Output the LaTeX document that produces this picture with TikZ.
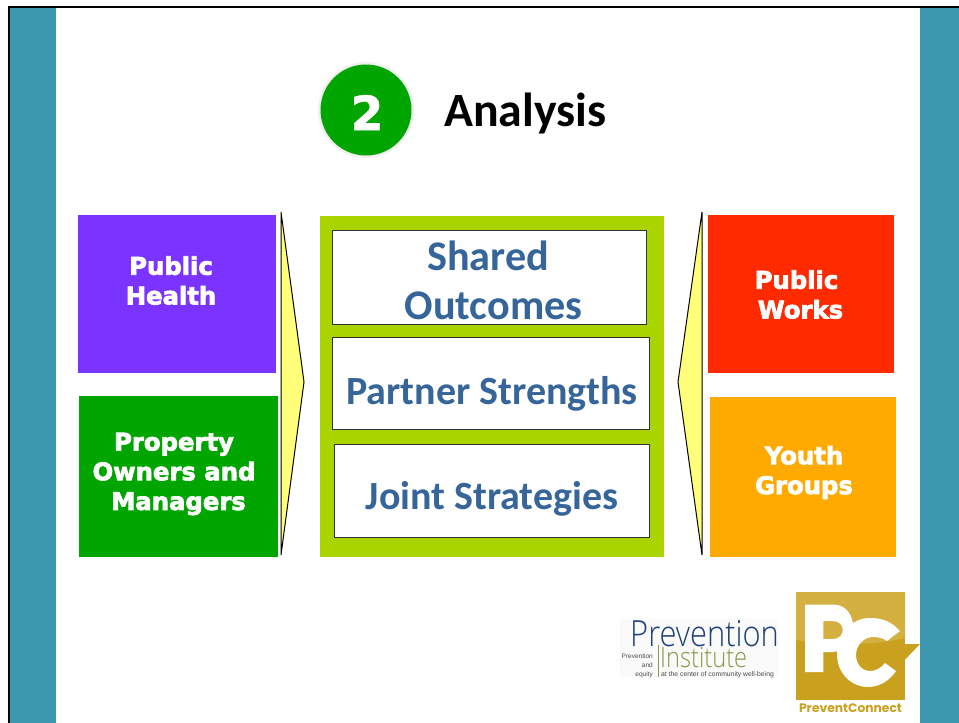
\documentclass[tikz,border=0pt]{standalone}
\usepackage{fontspec}
\setmainfont{Carlito}
\newfontfamily\heavyfont[FakeBold=3]{DejaVu Sans Bold}
\newfontfamily\digitfont[FakeBold=1.5]{DejaVu Sans Bold}
\newfontfamily\logofontA[FakeStretch=0.857]{Open Sans Light}
\newfontfamily\logofontB[FakeStretch=0.845]{Open Sans Light}
\newfontfamily\gothfont{Poppins}
\newfontfamily\smallfont{Liberation Sans}
\definecolor{teal1}{HTML}{3C98AE}
\definecolor{violet1}{HTML}{7B33FF}
\definecolor{green1}{HTML}{00A500}
\definecolor{red1}{HTML}{FF2A00}
\definecolor{orange1}{HTML}{FFAA00}
\definecolor{lime1}{HTML}{AAD400}
\definecolor{yellow1}{HTML}{FFFF7A}
\definecolor{blue1}{HTML}{36659A}
\definecolor{gold1}{HTML}{C9A11F}
\definecolor{gold2}{HTML}{D4B040}
\definecolor{navy1}{HTML}{1F3F78}
\definecolor{olive1}{HTML}{8A9A4A}
\tikzset{
  x=1pt,y=-1pt,
  panel/.style={fill=#1,draw=none},
  whitebox/.style={fill=white,draw=black!80,line width=1pt},
  blocklabel/.style={font=\fontsize{40}{40}\selectfont\bfseries,text=blue1,inner sep=0pt,anchor=base},
  biglabel/.style={font=\fontsize{42.2}{42.2}\selectfont\bfseries,text=blue1,inner sep=0pt,anchor=base},
  deptlabel/.style={font=\fontsize{24.3}{29.7}\selectfont\heavyfont,text=white,align=center,inner sep=0pt},
  pointer/.style={fill=yellow1,draw=black,line width=1pt,line join=miter},
  tinytext/.style={anchor=base east,inner sep=0pt,text=black!70,font=\fontsize{6.5}{6.5}\selectfont\smallfont},
}
\begin{document}
\begin{tikzpicture}
\useasboundingbox (0,0) rectangle (959,723);
\fill[white] (0,0) rectangle (959,723);
% slide frame
\fill[black] (8,6) rectangle (959,8);
\fill[black] (8,6) rectangle (10,723);
\fill[teal1] (10,8) rectangle (56,723);
\fill[teal1] (920,8) rectangle (959,723);
% heading
\node[circle,minimum size=96,fill=black!6,inner sep=0pt] (ring) at (366,110) {};
\node[circle,minimum size=91,fill=green1,inner sep=0pt] (badge) at (366,110) {};
\node[inner sep=0pt,text=white,font=\fontsize{47}{47}\selectfont\digitfont,anchor=base] (num) at (367,130) {2};
\node[anchor=base west,inner sep=0pt,font=\fontsize{47.8}{47.8}\selectfont\bfseries] (title) at (444,126) {Analysis};
% department panels
\path[panel=violet1] (78,215) rectangle (276,373);
\path[panel=green1] (79,396) rectangle (278,557);
\path[panel=red1] (708,215) rectangle (894,373);
\path[panel=orange1] (710,397) rectangle (896,557);
\node[deptlabel] (ph) at (171,280.5) {Public\\Health};
\node[deptlabel] (po) at (174,474) {Property\\Owners and\\\hspace{9pt}Managers};
\node[deptlabel] (pw) at (796.5,294.5) {Public\\\hspace{8pt}Works};
\node[deptlabel] (yg) at (804,472.5) {Youth\hspace{10pt}\\Groups};
% pointers
\draw[pointer] (281,212) -- (304,382) -- (281,555) -- cycle;
\draw[pointer] (702,212) -- (678,382) -- (702,555) -- cycle;
% centre block
\path[panel=lime1] (320,216) rectangle (664,557);
\draw[whitebox] (332,230) rectangle (646.5,324.5);
\draw[whitebox] (332,337) rectangle (649,429);
\draw[whitebox] (334,444) rectangle (649.5,537.5);
\node[biglabel] (so1) at (488,270) {Shared};
\node[biglabel] (so2) at (493.5,319.5) {Outcomes};
\node[blocklabel] (ps) at (492,404) {Partner Strengths};
\node[blocklabel] (js) at (492,509) {Joint Strategies};
% Prevention Institute logo
\fill[black!2] (620,618) rectangle (778,678);
\node[anchor=base west,inner sep=0pt,text=navy1,font=\fontsize{36}{36}\selectfont\logofontA] (pv) at (630,646) {Prevention};
\node[anchor=base west,inner sep=0pt,text=olive1,font=\fontsize{28}{28}\selectfont\logofontB] (in) at (660,667) {Institute};
\fill[olive1] (658.2,645) rectangle (659.2,677);
\node[tinytext] (t1) at (653,658) {Prevention};
\node[tinytext] (t2) at (653,667) {and};
\node[tinytext] (t3) at (653,676) {equity};
\node[tinytext,anchor=base west,font=\fontsize{6.8}{6.8}\selectfont\smallfont] (t4) at (661,676) {at the center of community well-being};
% PreventConnect logo
\fill[gold1] (796,592) rectangle (905,700);
\fill[gold2] (796,592) -- (905,592) -- (905,638) .. controls (870,646) and (830,646) .. (796,640) -- cycle;
\fill[gold1] (885,644) -- (920,644) -- (898,667) -- cycle;
\fill[white,even odd rule] (805,604.5) -- (833,604.5) .. controls (860,604.5) and (860,650) .. (833,652) -- (823.3,652) -- (823.3,672) -- (805,672) -- cycle
   (823.3,621) -- (833,621) .. controls (846,621) and (846,639) .. (833,639) -- (823.3,639) -- cycle;
\fill[white] (900,631) .. controls (890,620) and (880,618) .. (870,618)
   .. controls (850,618) and (837,636) .. (837,654)
   .. controls (837,674) and (852,687) .. (868,687)
   .. controls (880,687) and (890,680) .. (896,671)
   -- (885,663) .. controls (880,669) and (875,671) .. (870,671)
   .. controls (862,671) and (856,664) .. (856,655)
   .. controls (856,645) and (864,637) .. (873,637)
   .. controls (878,637) and (883,638) .. (887,641) -- cycle;
\node[inner sep=0pt,text=gold1,font=\fontsize{12.3}{12.3}\selectfont\gothfont\bfseries,anchor=base] (pc) at (850.5,712) {PreventConnect};
\end{tikzpicture}
\end{document}
